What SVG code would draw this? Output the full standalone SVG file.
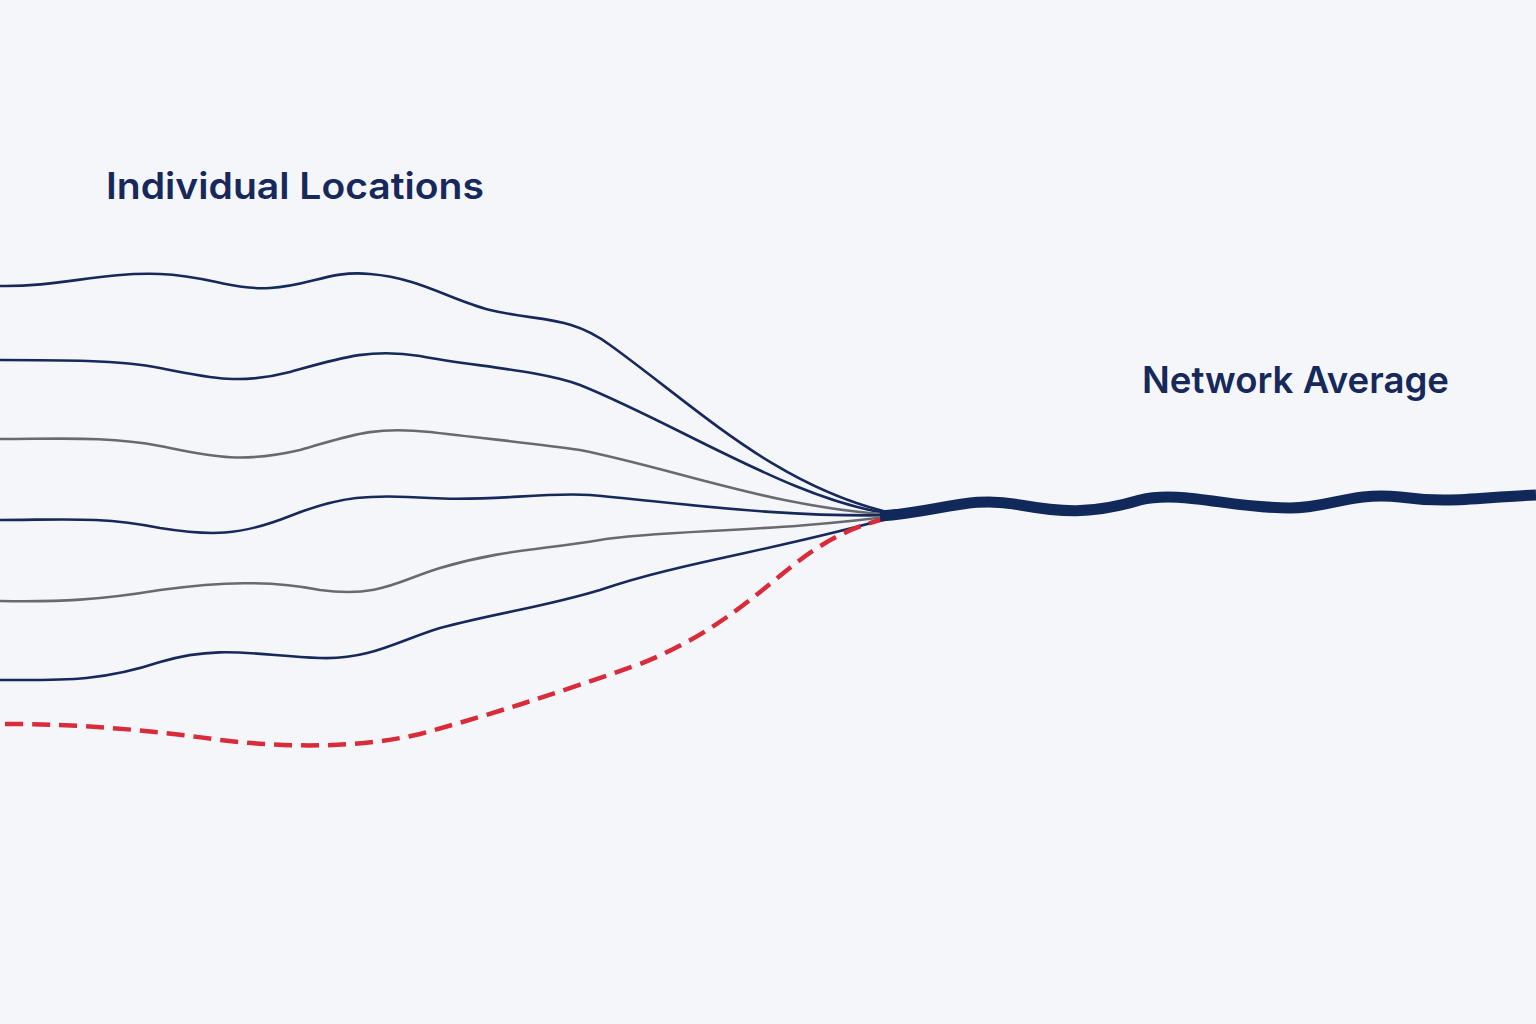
<svg xmlns="http://www.w3.org/2000/svg" width="1536" height="1024" viewBox="0 0 1536 1024">
<style>
.t{font-family:"Inter","Liberation Sans",sans-serif;font-weight:600;font-size:37px;fill:#16295a}
.n{fill:none;stroke:#16295a;stroke-width:2.6;stroke-linecap:round}
.g{fill:none;stroke:#686a70;stroke-width:2.6}
</style>
<rect width="1536" height="1024" fill="#f5f6fa"/>
<g id="lines">
<path class="n" d="M0,286 C60,287 100,272 160,274 C210,276 230,290 270,288 C310,286 330,270 370,274 C420,278 450,300 490,310 C540,322 570,315 610,345 C700,410 780,490 900,515"/>
<path class="n" d="M0,360 C60,360 120,360 160,368 C210,378 240,385 290,372 C340,358 370,348 420,356 C470,366 540,370 580,385 C680,425 800,505 900,515"/>
<path class="g" d="M0,439 C60,439 110,436 160,446 C210,456 240,464 300,450 C350,436 370,426 430,432 C480,438 540,444 580,450 C680,470 780,510 900,515"/>
<path class="n" d="M0,520 C60,520 100,516 160,528 C210,536 240,536 290,516 C340,496 370,494 430,498 C490,502 540,492 590,495 C680,503 780,518 900,515"/>
<path class="g" d="M0,601 C60,602 100,600 160,590 C220,582 270,580 320,590 C380,598 400,580 440,568 C500,550 540,550 600,540 C660,530 780,532 900,515"/>
<path class="n" d="M0,680 C60,680 100,682 160,662 C220,644 260,656 320,658 C370,660 400,640 440,628 C500,612 540,608 600,590 C680,562 780,550 900,515"/>
<path fill="none" stroke="#d92b3a" stroke-width="4.5" stroke-dasharray="18,9" d="M5,724 C80,724 150,730 220,740 C290,748 360,748 420,734 C500,712 560,692 640,664 C720,632 760,590 800,560 C840,530 870,522 900,515"/>
<path fill="none" stroke="#11295a" stroke-width="11" d="M880,516 C940,512 970,495 1020,505 C1060,512 1090,515 1140,500 C1180,490 1230,508 1290,508 C1330,508 1350,492 1400,497 C1450,504 1480,497 1536,495"/>
</g>
<text class="t" x="106" y="199" textLength="378" lengthAdjust="spacingAndGlyphs">Individual Locations</text>
<text class="t" x="1142" y="393" textLength="307" lengthAdjust="spacingAndGlyphs">Network Average</text>
</svg>
